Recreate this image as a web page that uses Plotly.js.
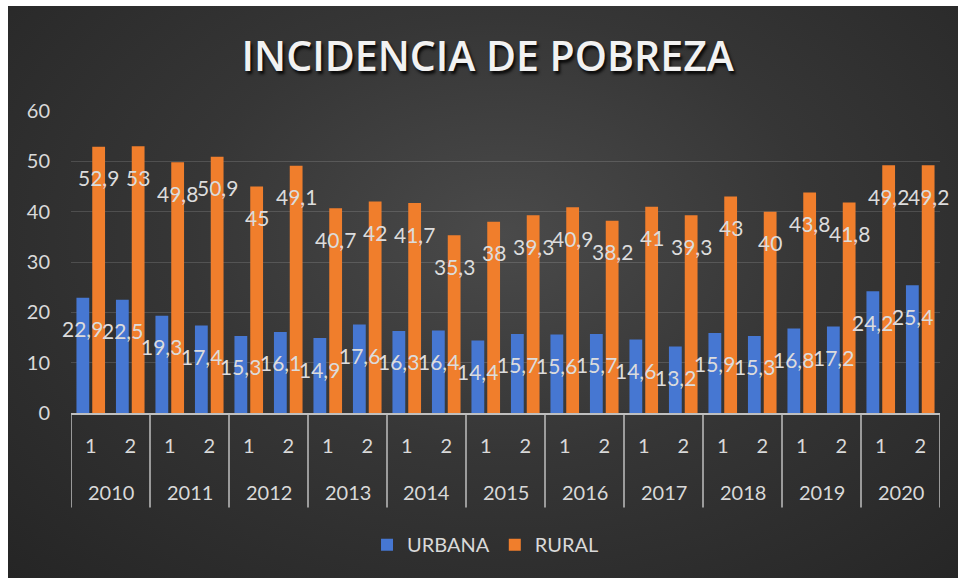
<!DOCTYPE html>
<html>
<head>
<meta charset="utf-8">
<script src="https://cdn.plot.ly/plotly-3.0.1.min.js"></script>
<style>
  html, body { margin: 0; padding: 0; background: #ffffff; width: 958px; height: 578px; overflow: hidden; }
  #chart {
    position: absolute; left: 8px; top: 6px; width: 950px; height: 572px;
    background: radial-gradient(ellipse at 52% 40%, #4a4a4a 0%, #363636 45%, #252525 100%);
  }
</style>
</head>
<body>
<div id="chart"></div>
<script>
const years = ['2010','2011','2012','2013','2014','2015','2016','2017','2018','2019','2020'];
const halves = ['1','2'];
const urbana = [22.9, 22.5, 19.3, 17.4, 15.3, 16.1, 14.9, 17.6, 16.3, 16.4, 14.4, 15.7, 15.6, 15.7, 14.6, 13.2, 15.9, 15.3, 16.8, 17.2, 24.2, 25.4];
const rural  = [52.9, 53, 49.8, 50.9, 45, 49.1, 40.7, 42, 41.7, 35.3, 38, 39.3, 40.9, 38.2, 41, 39.3, 43, 40, 43.8, 41.8, 49.2, 49.2];

// categories: one per (year, half)
const cats = [], innerText = [];
years.forEach(y => halves.forEach(h => { cats.push(y + '-' + h); innerText.push(h); }));

const fontFam = 'Lato, "Open Sans", sans-serif';
const txtCol = '#d9d9d9';
const lineCol = '#bfbfbf';

const traces = [
  { type: 'bar', name: 'URBANA', x: cats, y: urbana,
    marker: { color: '#4677d2' }, hoverinfo: 'y' },
  { type: 'bar', name: 'RURAL', x: cats, y: rural,
    marker: { color: '#f07e2c' }, hoverinfo: 'y' }
];

const fmt = v => String(v).replace('.', ',');
const annotations = [];
urbana.forEach((v, i) => annotations.push({
  xref: 'x2', yref: 'y', x: i - 0.2, y: v, text: fmt(v), showarrow: false,
  yanchor: 'middle', xanchor: 'center', yshift: -31,
  font: { family: fontFam, size: 21, color: '#dcdcdc' }
}));
rural.forEach((v, i) => annotations.push({
  xref: 'x2', yref: 'y', x: i + 0.2, y: v, text: fmt(v), showarrow: false,
  yanchor: 'middle', xanchor: 'center', yshift: -31,
  font: { family: fontFam, size: 21, color: '#dcdcdc' }
}));
// outer (year) labels, centred under each pair of halves
years.forEach((y, k) => annotations.push({
  xref: 'x2', yref: 'paper', x: k * halves.length + (halves.length - 1) / 2, y: -0.263,
  text: y, showarrow: false, xanchor: 'center', yanchor: 'middle',
  font: { family: fontFam, size: 20, color: txtCol }
}));

// group dividers at the year boundaries
const shapes = [];
for (let k = 0; k <= years.length; k++) {
  const xb = k * halves.length - 0.5;
  shapes.push({ type: 'line', xref: 'x2', yref: 'paper', x0: xb, x1: xb, y0: 0, y1: -0.313,
    line: { color: lineCol, width: 1.5 } });
}

const layout = {
  width: 950, height: 572,
  paper_bgcolor: 'rgba(0,0,0,0)', plot_bgcolor: 'rgba(0,0,0,0)',
  margin: { l: 63, r: 18, t: 105, b: 165 },
  font: { family: fontFam, color: txtCol, size: 20 },
  title: {
    text: 'INCIDENCIA DE POBREZA', xref: 'container', x: 0.505, xanchor: 'center',
    yref: 'container', y: 0.912, yanchor: 'middle',
    font: { family: '"Open Sans", sans-serif', size: 41, weight: 600, color: '#f2f2f2', shadow: '2px 3px 3px rgba(0,0,0,0.85)' }
  },
  barmode: 'group', bargap: 0.2, bargroupgap: 0.19,
  xaxis: {
    type: 'category', showgrid: false, zeroline: false,
    showline: true, linecolor: lineCol, linewidth: 1.5,
    tickmode: 'array', tickvals: cats, ticktext: innerText,
    tickfont: { family: fontFam, size: 20, color: txtCol },
    ticks: '', ticklabelstandoff: 14, fixedrange: true
  },
  xaxis2: { overlaying: 'x', range: [-0.5, cats.length - 0.5], visible: false, fixedrange: true },
  yaxis: {
    range: [0, 60], dtick: 10, tick0: 0, showgrid: true,
    gridcolor: 'rgba(255,255,255,0.14)', gridwidth: 1, zeroline: false, showline: false,
    tickfont: { family: fontFam, size: 20, color: txtCol }, ticklabelstandoff: 20,
    fixedrange: true
  },
  showlegend: true,
  legend: {
    orientation: 'h', x: 0.477, xanchor: 'center', y: -0.436, yanchor: 'middle',
    font: { family: fontFam, size: 20, color: txtCol }, bgcolor: 'rgba(0,0,0,0)',
    itemwidth: 30, traceorder: 'normal'
  },
  annotations: annotations,
  shapes: shapes
};

Plotly.newPlot('chart', traces, layout, { displayModeBar: false, staticPlot: true });
</script>
</body>
</html>
